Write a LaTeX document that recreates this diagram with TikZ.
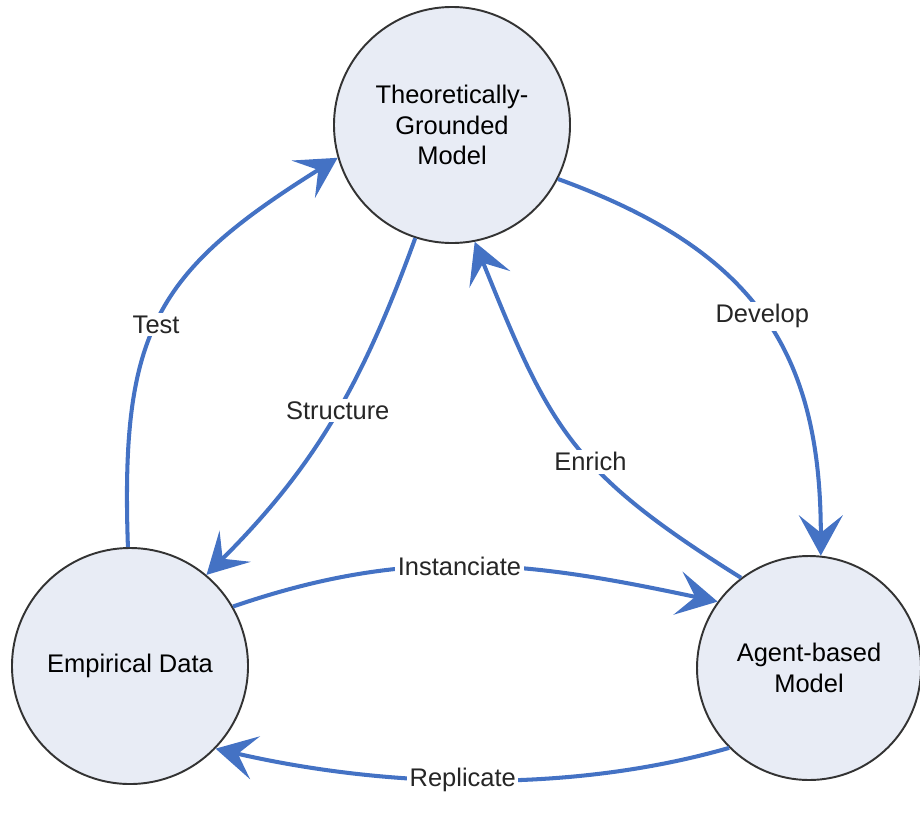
\documentclass[tikz,border=0pt]{standalone}
\usepackage{fontspec}
\setmainfont{Liberation Sans}
\usetikzlibrary{arrows.meta}
\definecolor{linkblue}{RGB}{68,114,196}
\definecolor{discfill}{RGB}{232,236,245}
\tikzset{
  disc/.style={circle,draw=black!80,line width=1.1pt,fill=discfill,align=center,
    font=\fontsize{14.5}{17.5}\selectfont,inner sep=0pt},
  link/.style={linkblue,line width=2.3pt,-{Stealth[length=23pt,width=25pt,inset=10pt]}},
  lbl/.style={fill=white,inner sep=1.5pt,text=black!85,font=\fontsize{14.5}{17.5}\selectfont}
}
\begin{document}
\begin{tikzpicture}
\useasboundingbox (0,0) rectangle (18.4,-16.28);

% Circles
\node[disc,minimum size=4.72cm] (theory) at (9.04,-2.5) {Theoretically-\\Grounded\\Model};
\node[disc,minimum size=4.72cm] (data) at (2.6,-13.32) {Empirical Data};
\node[disc,minimum size=4.48cm] (agent) at (16.18,-13.36) {Agent-based\\Model};

% Connectors
\draw[link] (data.91) to[out=92,in=212,looseness=1.25] node[lbl,pos=0.47] {Test} (theory.196);
\draw[link] (theory.252) to[out=250,in=45] node[lbl,pos=0.47] {Structure} (data.50);
\draw[link] (theory.333) to[out=-20,in=90,looseness=1.15] node[lbl,pos=0.5] {Develop} (agent.84);
\draw[link] (agent.127) to[out=148,in=-68,looseness=1.2] node[lbl,pos=0.42] {Enrich} (theory.281);
\draw[link] (data.30) to[out=19,in=168] node[lbl,pos=0.47] {Instanciate} (agent.144);
\draw[link] (agent.225) to[out=196,in=-13,looseness=0.85] node[lbl,pos=0.52] {Replicate} (data.316);

\end{tikzpicture}
\end{document}
